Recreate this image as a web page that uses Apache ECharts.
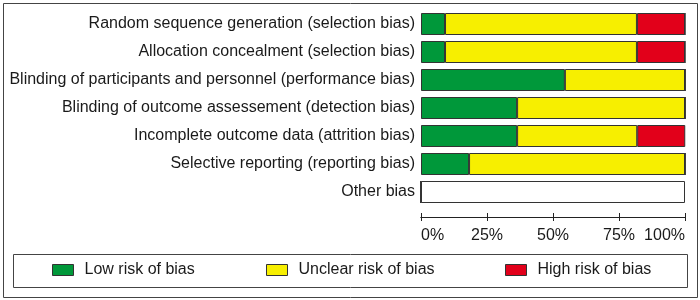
<!DOCTYPE html>
<html>
<head>
<meta charset="utf-8">
<script src="https://cdn.jsdelivr.net/npm/echarts@6/dist/echarts.min.js"></script>
<style>
    html, body { margin: 0; padding: 0; background: #fff; }
    #chart { width: 700px; height: 300px; }
</style>
</head>
<body>
<div id="chart"></div>
<script>
'use strict';

// 偏倚条目
var domains = [
    'Random sequence generation (selection bias)',
    'Allocation concealment (selection bias)',
    'Blinding of participants and personnel (performance bias)',
    'Blinding of outcome assessement (detection bias)',
    'Incomplete outcome data (attrition bias)',
    'Selective reporting (reporting bias)',
    'Other bias'
];

// 百分比（11 项研究）
var lowRisk = [9.1, 9.1, 54.5, 36.4, 36.4, 18.2, 0];
var unclearRisk = [72.7, 72.7, 45.5, 63.6, 45.5, 81.8, 0];
var highRisk = [18.2, 18.2, 0, 0, 18.2, 0, 0];
var notAssessed = [0, 0, 0, 0, 0, 0, 100];

var xTicks = [0, 25, 50, 75, 100];

var fontFamily = '"Liberation Sans", Arial, sans-serif';
var textColor = '#1a1a1a';

function makeSeries(name, data, color) {
    return {
        name: name,
        type: 'bar',
        stack: 'risk',
        data: data,
        barWidth: 22,
        itemStyle: {
            color: color,
            borderColor: '#333',
            borderWidth: 1
        },
        emphasis: { disabled: true },
        silent: true
    };
}

function makeLegend(name, left) {
    return {
        data: [name],
        left: left,
        top: 262,
        padding: 0,
        itemWidth: 21,
        itemHeight: 11,
        icon: 'rect',
        selectedMode: false,
        textStyle: { fontSize: 16, color: textColor, fontFamily: fontFamily, padding: [0, 0, 0, 6] },
        itemStyle: { borderColor: '#333', borderWidth: 1 }
    };
}

var xAxisBase = {
    type: 'value',
    min: xTicks[0],
    max: xTicks[xTicks.length - 1],
    interval: 25,
    position: 'bottom',
    offset: 11,
    splitLine: { show: false },
    axisLine: { show: true, lineStyle: { color: '#222', width: 1 } }
};

var myChart = echarts.init(document.getElementById('chart'));

var option = {
    animation: false,
    backgroundColor: '#fff',
    grid: {
        left: 421,
        right: 15,
        top: 10,
        bottom: 94,
        outerBoundsMode: 'none',
        containLabel: false
    },
    xAxis: [
        Object.assign({}, xAxisBase, {
            axisTick: { show: true, length: 4, lineStyle: { color: '#222' } },
            axisLabel: {
                formatter: '{value}%',
                fontSize: 16,
                color: textColor,
                fontFamily: fontFamily,
                margin: 11,
                alignMinLabel: 'left',
                alignMaxLabel: 'right'
            }
        }),
        Object.assign({}, xAxisBase, {
            axisTick: { show: true, inside: true, length: 4, lineStyle: { color: '#222' } },
            axisLabel: { show: false }
        })
    ],
    yAxis: {
        type: 'category',
        data: domains,
        inverse: true,
        axisLine: { show: false },
        axisTick: { show: false },
        axisLabel: {
            fontSize: 16,
            color: textColor,
            fontFamily: fontFamily,
            margin: 6
        }
    },
    legend: [
        makeLegend('Low risk of bias', 52),
        makeLegend('Unclear risk of bias', 266),
        makeLegend('High risk of bias', 505)
    ],
    graphic: [
        {
            type: 'rect',
            shape: { x: 3.5, y: 3.5, width: 694, height: 294 },
            style: { fill: 'none', stroke: '#444', lineWidth: 1 },
            silent: true
        },
        {
            type: 'rect',
            shape: { x: 13.5, y: 254.5, width: 674, height: 33 },
            style: { fill: 'none', stroke: '#444', lineWidth: 1 },
            silent: true
        }
    ],
    series: [
        makeSeries('Low risk of bias', lowRisk, '#00983a'),
        makeSeries('Unclear risk of bias', unclearRisk, '#f7ef00'),
        makeSeries('High risk of bias', highRisk, '#e2001a'),
        makeSeries('Not assessed', notAssessed, '#ffffff')
    ]
};

myChart.setOption(option);
</script>
</body>
</html>
